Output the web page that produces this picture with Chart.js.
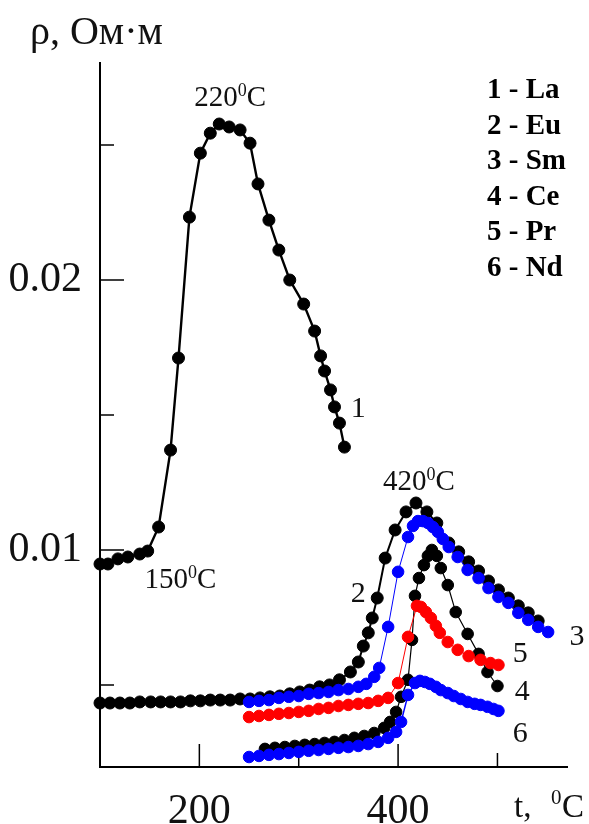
<!DOCTYPE html>
<html>
<head>
<meta charset="utf-8">
<script src="https://cdn.jsdelivr.net/npm/chart.js@4.4.0/dist/chart.umd.min.js"></script>
<style>
  html, body { margin: 0; padding: 0; background: #fff; }
  canvas { display: block; }
</style>
</head>
<body>
<canvas id="rhoChart" width="589" height="824"></canvas>
<script>
// t in °C, rho in Ом·м
const laT   = [100, 108, 118, 128, 140, 148, 159, 171, 179, 190, 201, 211, 220, 230, 241, 251, 259, 270, 280, 291, 305, 316, 322, 326, 332, 336, 341, 346];
const laRho = [0.00948, 0.00948, 0.00967, 0.00974, 0.00985, 0.00996, 0.01085, 0.01370, 0.01711, 0.02233, 0.02470, 0.02544, 0.02578, 0.02567, 0.02556, 0.02507, 0.02356, 0.02222, 0.02111, 0.02000, 0.01911, 0.01811, 0.01719, 0.01663, 0.01593, 0.01530, 0.01470, 0.01381];

const euT   = [100, 110, 120, 130, 140, 151, 161, 171, 181, 191, 201, 211, 221, 231, 241, 251, 261, 271, 281, 291, 301, 311, 321, 331, 341, 352, 360, 365, 370, 374, 379, 387, 397, 408, 418, 429, 439, 451, 461, 471, 481, 491, 501, 511, 521, 531, 541];
const euRho = [0.00433, 0.00433, 0.00433, 0.00433, 0.00437, 0.00437, 0.00437, 0.00437, 0.00437, 0.00441, 0.00441, 0.00444, 0.00444, 0.00444, 0.00448, 0.00448, 0.00452, 0.00456, 0.00459, 0.00467, 0.00474, 0.00481, 0.00493, 0.00500, 0.00519, 0.00548, 0.00585, 0.00644, 0.00693, 0.00748, 0.00822, 0.00970, 0.01074, 0.01141, 0.01174, 0.01141, 0.01100, 0.01026, 0.00993, 0.00956, 0.00922, 0.00885, 0.00852, 0.00822, 0.00793, 0.00767, 0.00737];

const smT   = [250, 260, 270, 280, 290, 300, 310, 320, 330, 340, 350, 360, 368, 376, 381, 390, 400, 410, 415, 420, 425, 430, 435, 440, 445, 451, 460, 470, 481, 491, 501, 511, 521, 531, 541, 551];
const smRho = [0.00437, 0.00441, 0.00444, 0.00452, 0.00456, 0.00459, 0.00467, 0.00470, 0.00474, 0.00481, 0.00485, 0.00493, 0.00504, 0.00530, 0.00563, 0.00715, 0.00919, 0.01048, 0.01089, 0.01107, 0.01107, 0.01100, 0.01085, 0.01067, 0.01041, 0.01011, 0.00974, 0.00926, 0.00896, 0.00859, 0.00826, 0.00804, 0.00767, 0.00741, 0.00715, 0.00696];

const ceT   = [266, 276, 286, 296, 306, 316, 326, 336, 346, 356, 366, 376, 386, 392, 398, 403, 410, 414, 417, 421, 426, 430, 434, 439, 443, 450, 458, 470, 481, 490, 500];
const ceRho = [0.00263, 0.00267, 0.00270, 0.00274, 0.00278, 0.00281, 0.00285, 0.00289, 0.00296, 0.00304, 0.00311, 0.00322, 0.00341, 0.00363, 0.00400, 0.00456, 0.00519, 0.00667, 0.00830, 0.00896, 0.00944, 0.00978, 0.01000, 0.00978, 0.00933, 0.00870, 0.00770, 0.00689, 0.00615, 0.00548, 0.00496];

const prT   = [250, 260, 270, 280, 290, 300, 310, 320, 330, 340, 350, 360, 370, 380, 390, 400, 410, 419, 423, 428, 433, 438, 442, 450, 460, 471, 483, 493, 501];
const prRho = [0.00381, 0.00385, 0.00389, 0.00393, 0.00396, 0.00400, 0.00404, 0.00411, 0.00415, 0.00422, 0.00426, 0.00430, 0.00433, 0.00441, 0.00452, 0.00507, 0.00678, 0.00793, 0.00789, 0.00770, 0.00748, 0.00719, 0.00693, 0.00659, 0.00630, 0.00607, 0.00593, 0.00581, 0.00574];

const ndT   = [250, 260, 270, 280, 290, 300, 310, 320, 330, 340, 350, 360, 370, 380, 390, 398, 403, 410, 417, 422, 427, 432, 438, 443, 450, 456, 463, 470, 477, 483, 490, 496, 501];
const ndRho = [0.00233, 0.00237, 0.00241, 0.00244, 0.00248, 0.00252, 0.00256, 0.00259, 0.00263, 0.00267, 0.00270, 0.00274, 0.00281, 0.00289, 0.00304, 0.00326, 0.00363, 0.00463, 0.00507, 0.00515, 0.00511, 0.00504, 0.00493, 0.00481, 0.00470, 0.00459, 0.00448, 0.00437, 0.00430, 0.00426, 0.00419, 0.00411, 0.00404];

const sampleNames = ['La', 'Eu', 'Sm', 'Ce', 'Pr', 'Nd'];
const yMajor = [0.01, 0.02];
const yMinor = [0.005, 0.015, 0.025];
const xMajor = [200, 400];
const xMinor = [300, 500];

const SERIF = "'Liberation Serif', 'Times New Roman', serif";
Chart.defaults.font.family = SERIF;
Chart.defaults.color = '#111';

function pts(ts, rs) {
  return ts.map((t, i) => ({ x: t, y: rs[i] }));
}

function series(label, ts, rs, color, lineWidth, radius, order) {
  return {
    label: label,
    data: pts(ts, rs),
    borderColor: color,
    backgroundColor: color,
    borderWidth: lineWidth,
    pointRadius: radius,
    pointBackgroundColor: color,
    pointBorderColor: color,
    pointBorderWidth: 1,
    tension: 0,
    clip: false,
    order: order
  };
}

// inward tick marks on both axes
const tickMarks = {
  id: 'tickMarks',
  beforeDatasetsDraw(chart) {
    const { ctx, chartArea: a, scales: { x, y } } = chart;
    ctx.save();
    ctx.strokeStyle = '#000';
    ctx.lineWidth = 1.5;
    ctx.beginPath();
    yMajor.concat(yMinor).forEach(v => {
      const py = y.getPixelForValue(v);
      const len = yMajor.includes(v) ? 24 : 14;
      ctx.moveTo(a.left, py);
      ctx.lineTo(a.left + len, py);
    });
    xMajor.concat(xMinor).forEach(v => {
      const px = x.getPixelForValue(v);
      const len = xMajor.includes(v) ? 23 : 14;
      ctx.moveTo(px, a.bottom);
      ctx.lineTo(px, a.bottom - len);
    });
    ctx.stroke();
    ctx.restore();
  }
};

// "220" + raised "0" + "C", centred on cx
function tempLabel(ctx, num, cx, by, size) {
  ctx.font = size + 'px ' + SERIF;
  const wNum = ctx.measureText(num).width;
  const wC = ctx.measureText('C').width;
  ctx.font = Math.round(size * 0.62) + 'px ' + SERIF;
  const wSup = ctx.measureText('0').width;
  let x = cx - (wNum + wSup + wC) / 2;
  ctx.textAlign = 'left';
  ctx.font = size + 'px ' + SERIF;
  ctx.fillText(num, x, by);
  x += wNum;
  ctx.font = Math.round(size * 0.62) + 'px ' + SERIF;
  ctx.fillText('0', x, by - size * 0.36);
  x += wSup;
  ctx.font = size + 'px ' + SERIF;
  ctx.fillText('C', x, by);
}

const notes = {
  id: 'notes',
  afterDraw(chart) {
    const { ctx, scales: { x, y } } = chart;
    ctx.save();
    ctx.fillStyle = '#111';
    ctx.textBaseline = 'alphabetic';

    // axis titles
    ctx.textAlign = 'left';
    ctx.font = '40px ' + SERIF;
    ctx.fillText('ρ, Ом·м', 30, 44);

    ctx.font = '33px ' + SERIF;
    ctx.fillText('t,', 514, 817);
    ctx.font = '21px ' + SERIF;
    ctx.fillText('0', 551, 804);
    ctx.font = '33px ' + SERIF;
    ctx.fillText('C', 562, 817);

    // temperature marks
    tempLabel(ctx, '220', x.getPixelForValue(231), y.getPixelForValue(0.02644), 29);
    tempLabel(ctx, '150', x.getPixelForValue(181), y.getPixelForValue(0.00859), 29);
    tempLabel(ctx, '420', x.getPixelForValue(421), y.getPixelForValue(0.01222), 29);

    // curve numbers
    const nums = [
      ['1', 360, 0.01493], ['2', 360, 0.00807], ['3', 580, 0.00648],
      ['5', 523, 0.00585], ['4', 525, 0.00444], ['6', 523, 0.00289]
    ];
    ctx.font = '30px ' + SERIF;
    ctx.textAlign = 'center';
    nums.forEach(([s, t, r]) => ctx.fillText(s, x.getPixelForValue(t), y.getPixelForValue(r)));

    // key
    ctx.textAlign = 'left';
    ctx.fillStyle = '#000';
    ctx.font = 'bold 29px ' + SERIF;
    sampleNames.forEach((n, i) => ctx.fillText((i + 1) + ' - ' + n, 487, 98 + i * 35.6));
    ctx.restore();
  }
};

new Chart(document.getElementById('rhoChart'), {
  type: 'line',
  data: {
    datasets: [
      series(sampleNames[0], laT, laRho, '#000', 2.4, 6, 0),
      series(sampleNames[2], smT, smRho, '#0000ff', 1, 5.8, 1),
      series(sampleNames[5], ndT, ndRho, '#0000ff', 1.5, 5.8, 2),
      series(sampleNames[4], prT, prRho, '#ff0000', 1, 5.8, 3),
      series(sampleNames[3], ceT, ceRho, '#000', 1.2, 5.8, 4),
      series(sampleNames[1], euT, euRho, '#000', 2, 6, 5)
    ]
  },
  options: {
    responsive: false,
    animation: false,
    layout: { padding: { top: 63, right: 22, left: 0, bottom: 0 } },
    plugins: { legend: { display: false }, tooltip: { enabled: false } },
    scales: {
      x: {
        type: 'linear',
        min: 100,
        max: 570,
        grid: { display: false, drawTicks: false },
        border: { display: true, color: '#000', width: 2 },
        afterBuildTicks: s => { s.ticks = xMajor.concat(xMinor).sort((a, b) => a - b).map(v => ({ value: v })); },
        afterFit: s => { s.height = 57; },
        ticks: {
          padding: 20,
          maxRotation: 0,
          autoSkip: false,
          font: { size: 42 },
          color: '#111',
          callback: v => xMajor.includes(v) ? String(v) : ''
        }
      },
      y: {
        type: 'linear',
        min: 0.00196,
        max: 0.02804,
        grid: { display: false, drawTicks: false },
        border: { display: true, color: '#000', width: 2 },
        afterBuildTicks: s => { s.ticks = yMajor.concat(yMinor).sort((a, b) => a - b).map(v => ({ value: v })); },
        afterFit: s => { s.width = 100; },
        ticks: {
          padding: 18,
          autoSkip: false,
          font: { size: 42 },
          color: '#111',
          callback: v => yMajor.includes(v) ? v.toFixed(2) : ''
        }
      }
    }
  },
  plugins: [tickMarks, notes]
});
</script>
</body>
</html>
